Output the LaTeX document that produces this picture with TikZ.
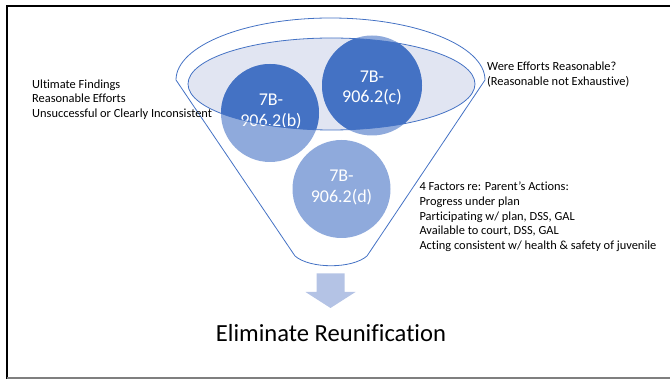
\documentclass[tikz,border=0pt]{standalone}
\usepackage{fontspec}
\setmainfont{Carlito}[Ligatures=NoCommon]
\usetikzlibrary{shapes.geometric}

\definecolor{outlineblue}{HTML}{4472C4}
\definecolor{darkblue}{HTML}{4472C4}
\definecolor{lightblue}{HTML}{8FAADC}
\definecolor{lavender}{HTML}{E1E5F2}
\definecolor{arrowblue}{HTML}{B4C3E5}
\definecolor{framegray}{HTML}{7F7F7F}

\begin{document}
\begin{tikzpicture}[x=1pt,y=-1pt,
  outline/.style={draw=outlineblue, line width=0.8pt},
  disc/.style={circle, fill=lightblue, minimum size=98pt, inner sep=0pt},
  disclabel/.style={text=white, font=\fontsize{18}{20.5}\selectfont, align=center, inner sep=0pt},
  note/.style={font=\fontsize{12.4}{14.6}\selectfont, align=left, anchor=base west, inner sep=0pt},
]
\useasboundingbox (0,0) rectangle (670,379);

% slide frame
\draw[line width=2pt] (7,379) -- (7,6) -- (670,6);
\draw[framegray, line width=1.5pt] (7,378.2) -- (670,378.2);

% funnel outline
\draw[outline] (176,80) .. controls (176,45.8) and (245.2,18) .. (330.5,18)
  .. controls (415.8,18) and (485,45.8) .. (485,80)
  -- (367,256) .. controls (352,269) and (310,269) .. (295,256) -- cycle;

% funnel rim
\node[ellipse, minimum width=287pt, minimum height=92pt, inner sep=0pt, fill=lavender] (rim) at (331.5,84) {};

% statute discs
\node[disc] (bdisc) at (270,113) {};
\node[disc, minimum size=100pt] (cdisc) at (372,85.5) {};
\node[disc] (ddisc) at (341.5,189) {};

% darker where the discs sit inside the rim
\begin{scope}
  \clip (rim.center) ellipse [x radius=143.5pt, y radius=46pt];
  \fill[darkblue] (bdisc.center) circle [radius=49pt];
  \fill[darkblue] (cdisc.center) circle [radius=50pt];
\end{scope}

\node[disclabel] (btext) at (271,111.5) {7B-\\906.2(b)};
\node[disclabel] (ctext) at (372,88) {7B-\\906.2(c)};
\node[disclabel] (dtext) at (341.5,187.5) {7B-\\906.2(d)};

\draw[outline] (rim.center) ellipse [x radius=143.5pt, y radius=46pt];

% side notes (anchored at the baseline of their last line)
\node[note] (findings) at (32,117.5) {Ultimate Findings\\Reasonable Efforts\\Unsuccessful or Clearly Inconsistent};
\node[note] (question) at (487,85.6) {Were Efforts Reasonable?\\(Reasonable not Exhaustive)};
\node[note] (factors) at (419.3,249.4) {4 Factors re: Parent’s Actions:\\Progress under plan\\Participating w/ plan, DSS, GAL\\Available to court, DSS, GAL\\Acting consistent w/ health \& safety of juvenile};

% outflow arrow
\fill[arrowblue] (316.5,273.3) -- (344.5,273.3) -- (344.5,292) -- (355.5,292)
  -- (330.5,308) -- (305.5,292) -- (316.5,292) -- cycle;

\node[font=\fontsize{24.6}{29}\selectfont, anchor=base, inner sep=0pt] (result) at (331,342) {Eliminate Reunification};
\end{tikzpicture}
\end{document}
